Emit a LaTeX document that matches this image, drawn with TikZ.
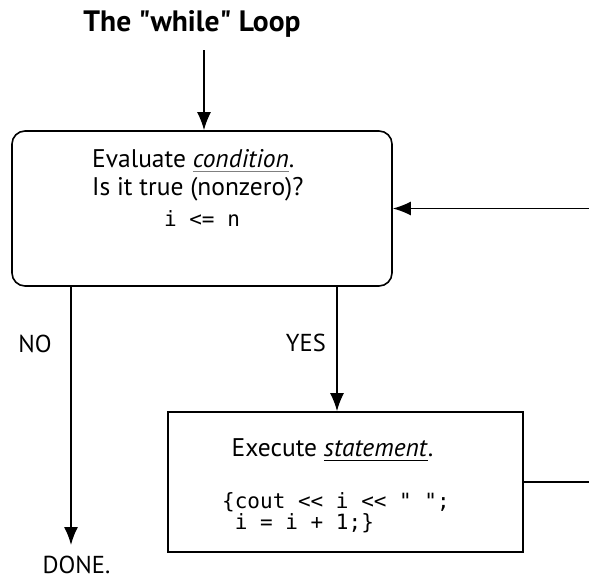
\documentclass[tikz,border=0pt]{standalone}
\usepackage{fontspec}
\setmainfont{PT Sans}
\setmonofont{DejaVu Sans Mono}
\usepackage{xcolor}
\usetikzlibrary{arrows.meta,
                positioning}
\newsavebox\ulinebox
\newcommand{\uword}[2]{\sbox\ulinebox{#2}%
    \rlap{\textcolor{#1}{\rule[-5pt]{\wd\ulinebox}{1.4pt}}}\usebox\ulinebox}
\tikzset{roundbox/.style={draw, line width=1.6pt, rounded corners=13pt,
        minimum width=380pt, minimum height=155pt},
    squarebox/.style={draw, line width=1.6pt,
        minimum width=355pt, minimum height=140pt},
    flow/.style={line width=1.6pt, -{Latex[length=18pt, width=14pt]}},
    plain/.style={line width=1.6pt},
    txt/.style={inner sep=0pt, font=\fontsize{25.5}{30}\selectfont},
    lbl/.style={inner sep=0pt, font=\fontsize{24.5}{30}\selectfont},
    codetxt/.style={inner sep=0pt, font=\ttfamily\fontsize{21}{22}\selectfont}}

\begin{document}
\begin{tikzpicture}[x=1pt, y=-1pt]
        \useasboundingbox (0,0) rectangle (589,579);
        \node[inner sep=0pt, anchor=base, font=\bfseries\fontsize{29.5}{32}\selectfont]
            (title) at (192,31) {The \textquotedbl while\textquotedbl{} Loop};
        \node[roundbox] (cond) at (202,208.5) {};
        \node[txt, anchor=base west] (ask) at (92,167)
            {Evaluate \uword{gray}{\textit{condition}}.};
        \node[txt, anchor=base west] (ask2) at (92,195) {Is it true (nonzero)?};
        \node[codetxt, anchor=base] (test) at (202,226) {i <= n};
        \node[squarebox] (body) at (345.5,482) {};
        \node[txt, anchor=base] (exec) at (332.5,456)
            {Execute \uword{black}{\textit{statement}}.};
        \node[codetxt, anchor=base west] (code1) at (222,508) {\{cout << i << " ";};
        \node[codetxt, anchor=base west] (code2) at (222,529) {\phantom{\{}i = i + 1;\}};
        \node[lbl, anchor=base] (no) at (35,352) {NO};
        \node[lbl, anchor=base east] (yes) at (326,351) {YES};
        \node[lbl, anchor=base] (done) at (76.5,573) {DONE.};
        \coordinate (entry) at (204,50);
        \coordinate (exit) at (71,545);
        \coordinate (loopin) at (589,208.5);
        \coordinate (loopout) at (589,482);
        \draw[flow] (entry) -- (entry |- cond.north);
        \draw[flow] (cond.south -| exit) -- (exit);
        \draw[flow] ([xshift=-8.5pt]body.north |- cond.south) -- ([xshift=-8.5pt]body.north);
        \draw[plain] (body.east) -- (loopout);
        \draw[flow] (loopin) -- (cond.east);
    \end{tikzpicture}
\end{document}
